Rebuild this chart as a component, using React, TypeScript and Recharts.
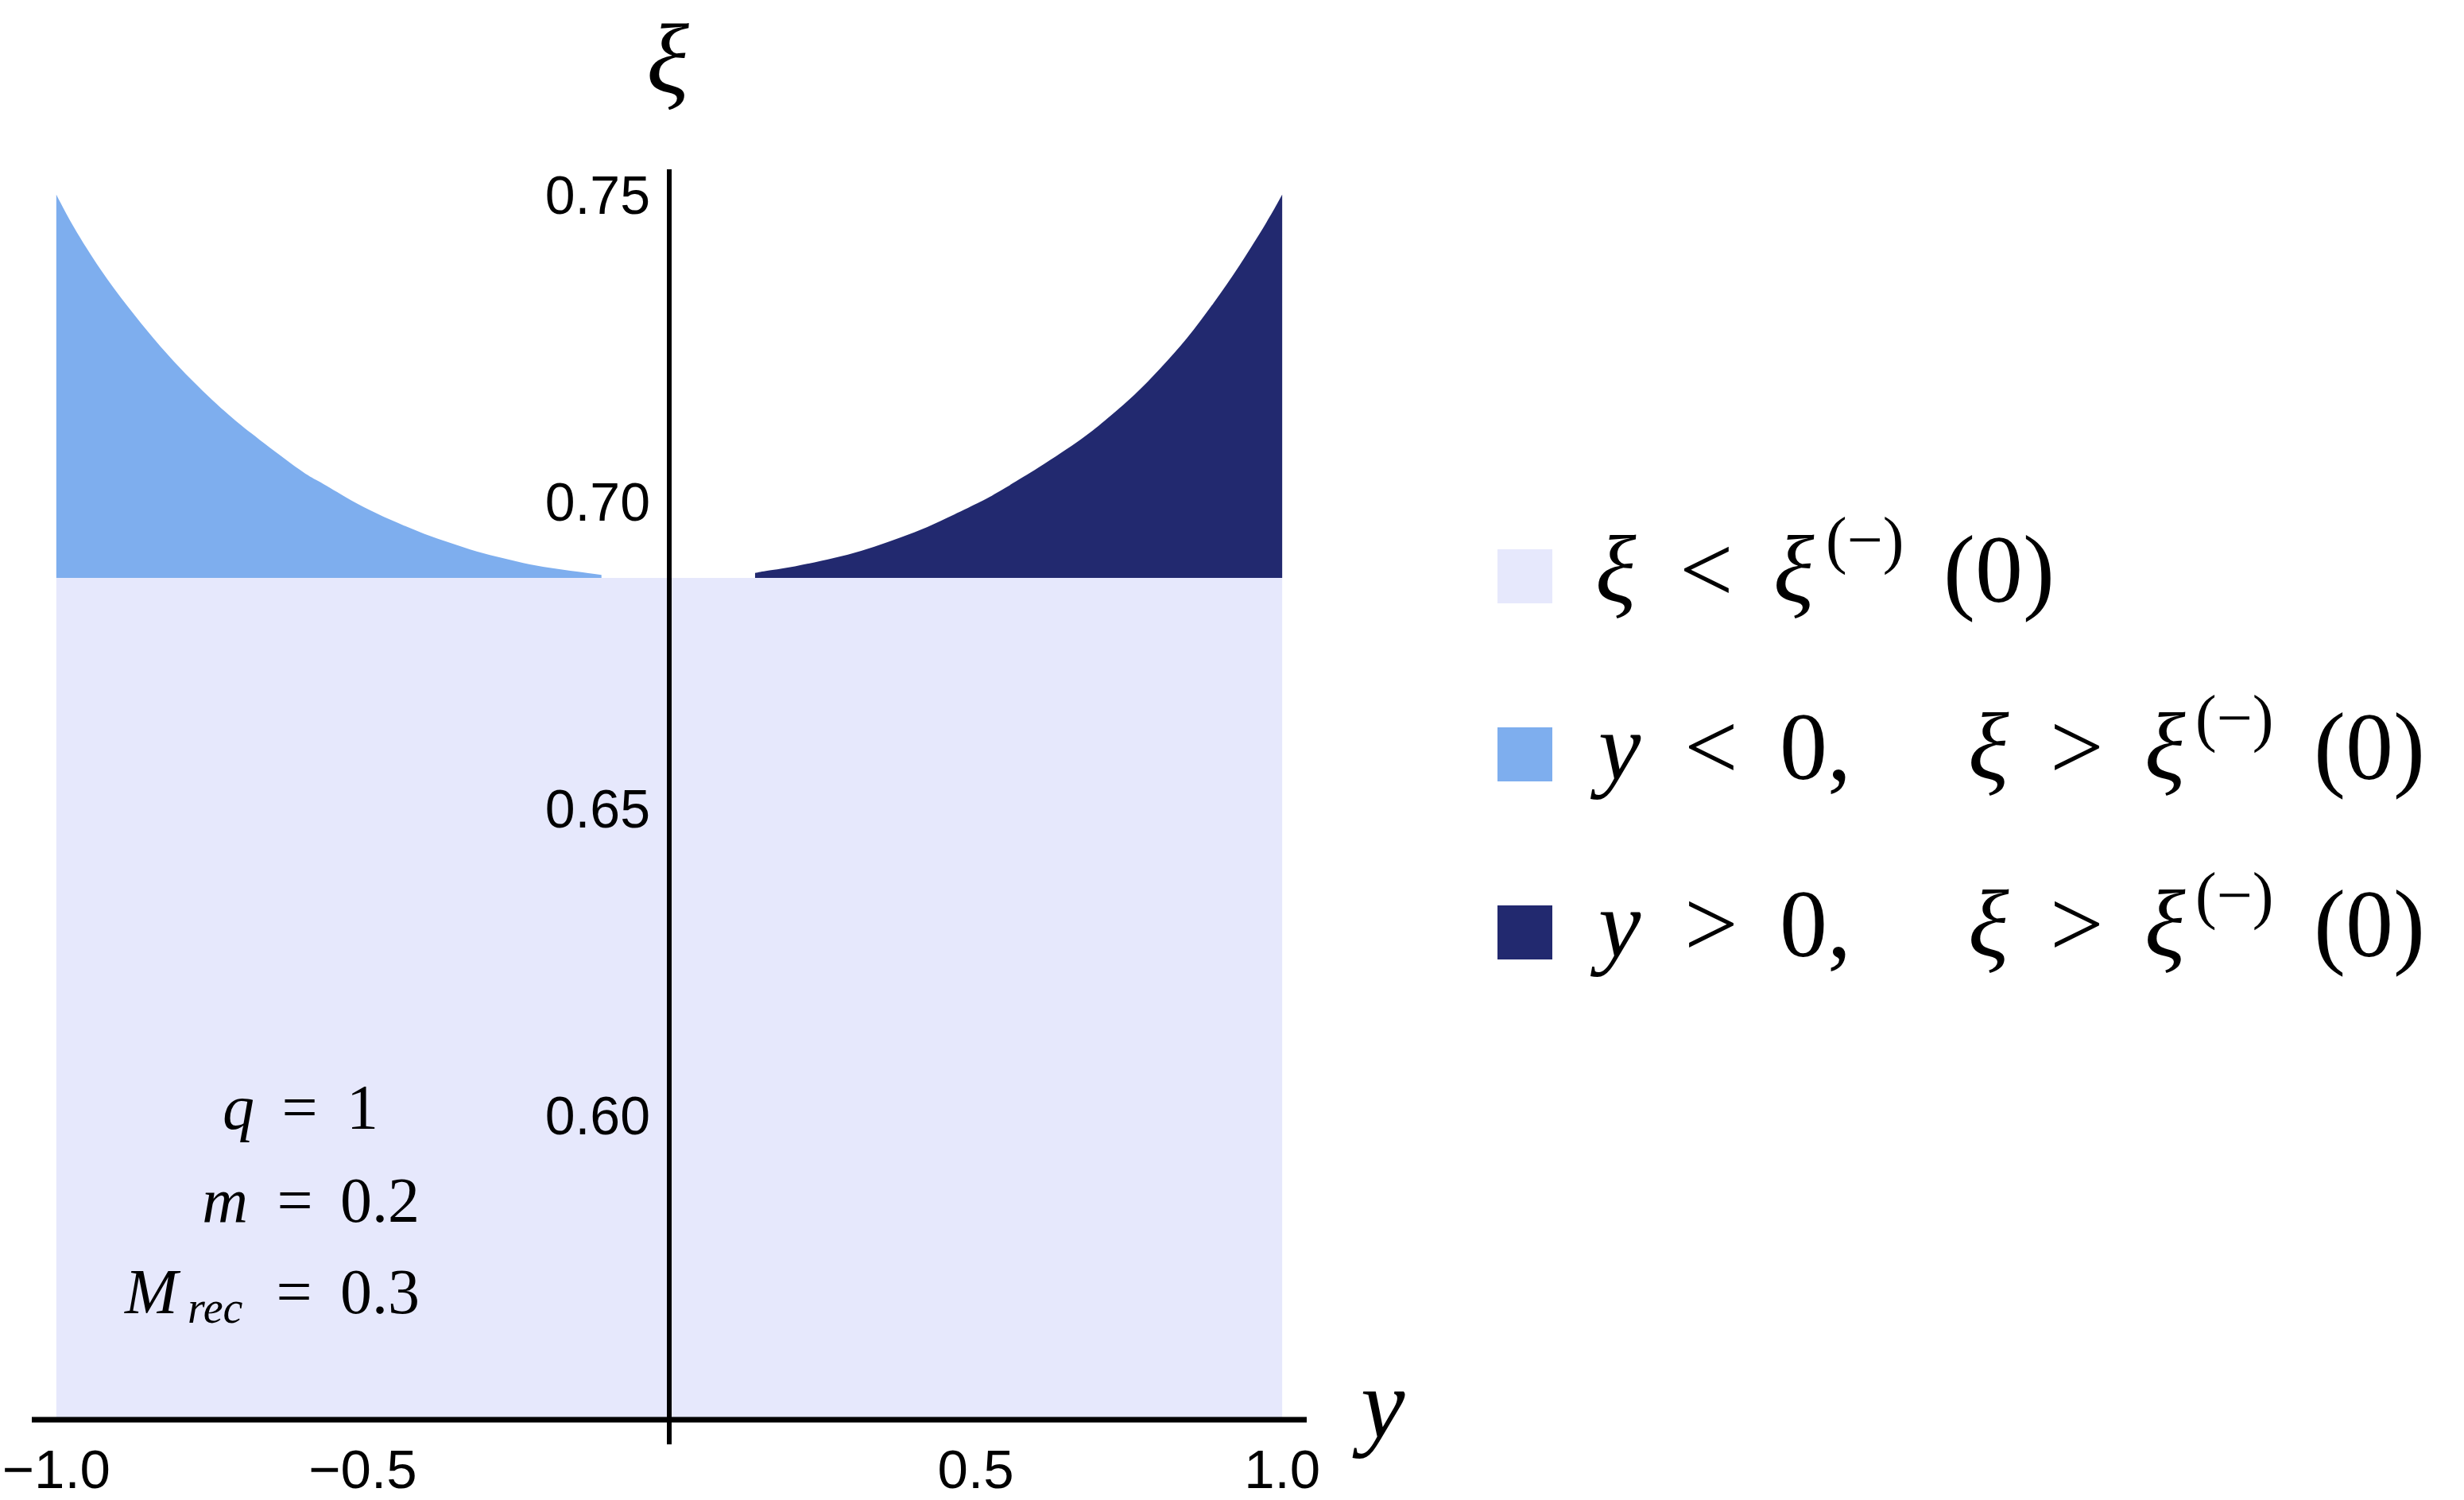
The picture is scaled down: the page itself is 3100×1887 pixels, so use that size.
import React from 'react';
import { ComposedChart, Area, XAxis, YAxis, ReferenceLine, ReferenceDot } from 'recharts';

const W = 3100;
const H = 1887;

// threshold xi^(-)(0) and plot range
const xiThreshold = 0.6875;
const xiFloor = 0.5503;
const xiCeil = 0.7541;
const yLo = -1.04;
const yHi = 1.04;

// y < 0 boundary curve
const leftY = [-1.0, -0.971, -0.928, -0.884, -0.841, -0.798, -0.755, -0.712, -0.668, -0.6035, -0.573, -0.53, -0.487, -0.4436, -0.4, -0.357, -0.314, -0.2707, -0.2274, -0.184, -0.141, -0.1106];
const leftXi = [0.75, 0.7446, 0.7378, 0.7318, 0.7265, 0.7217, 0.7174, 0.7135, 0.71, 0.7052, 0.7033, 0.7008, 0.6985, 0.6965, 0.6947, 0.6932, 0.6918, 0.6907, 0.6897, 0.689, 0.6884, 0.688];

// y > 0 boundary curve
const rightY = [0.14, 0.1617, 0.2049, 0.2481, 0.2914, 0.3346, 0.3778, 0.4211, 0.4643, 0.5075, 0.54, 0.6027, 0.6719, 0.715, 0.7584, 0.8016, 0.8447, 0.888, 0.9313, 0.9745, 1.0];
const rightXi = [0.6883, 0.6887, 0.6894, 0.6903, 0.6913, 0.6926, 0.6941, 0.6958, 0.6978, 0.6999, 0.7017, 0.7055, 0.7101, 0.7135, 0.7173, 0.7217, 0.7266, 0.7323, 0.7386, 0.7455, 0.75];

const xTicks = [-1, -0.5, 0, 0.5, 1];
const xTickLabels = ['−1.0', '−0.5', '', '0.5', '1.0'];
const yTicks = [0.6, 0.65, 0.7, 0.75];
const yTickLabels = ['0.60', '0.65', '0.70', '0.75'];

const colBase = '#E6E8FC';
const colLeft = '#7EAEEE';
const colRight = '#22296F';

type Row = { x: number; base?: [number, number]; left?: [number, number]; right?: [number, number] };

const rows: Row[] = [];
leftY.forEach((x, i) => rows.push({ x, base: [xiFloor, xiThreshold], left: [xiThreshold, leftXi[i]] }));
rightY.forEach((x, i) => rows.push({ x, base: [xiFloor, xiThreshold], right: [xiThreshold, rightXi[i]] }));
rows.sort((a, b) => a.x - b.x);

const sansFont = '"Liberation Sans", Arial, sans-serif';
const serifFont = '"Liberation Serif", "Times New Roman", serif';

const XTick = (props: any) => {
  const { x, y, payload } = props;
  const idx = xTicks.indexOf(payload.value);
  const label = idx >= 0 ? xTickLabels[idx] : '';
  return (
    <g>
      {payload.value === 0 ? <line x1={x} x2={x} y1={y} y2={y + 31} stroke="#000" strokeWidth={6} /> : null}
      {label ? (
        <text x={x} y={y + 62} textAnchor="middle" dominantBaseline="central" fontSize={69} fontFamily={sansFont} fill="#000">
          {label}
        </text>
      ) : null}
    </g>
  );
};

const M = 120; // legend font size
const S = 80; // superscript size

const LegendRow = ({ yc, base, sup, color, parts }: { yc: number; base: number; sup: number; color: string; parts: any[] }) => (
  <g>
    <rect x={1884} y={yc - 34} width={69} height={68} fill={color} />
    {parts.map((p, i) => (
      <text
        key={i}
        x={p.x}
        y={p.sup ? sup : base}
        fontSize={p.sup ? S : M}
        fontStyle={p.it ? 'italic' : 'normal'}
        fontFamily={serifFont}
        fill="#000"
      >
        {p.t}
      </text>
    ))}
  </g>
);

export default function App() {
  return (
    <div style={{ position: 'relative', width: W, height: H, background: '#fff' }}>
      <style>{`body{margin:0}`}</style>
      <ComposedChart width={W} height={H} data={rows} margin={{ top: 213, left: 40, right: 1456, bottom: 0 }}>
        <XAxis
          dataKey="x"
          type="number"
          domain={[yLo, yHi]}
          ticks={xTicks}
          allowDataOverflow
          height={101}
          tickSize={0}
          tickMargin={0}
          tickLine={false}
          axisLine={{ stroke: '#000', strokeWidth: 7 }}
          tick={<XTick />}
          interval={0}
        />
        <YAxis hide type="number" domain={[xiFloor, xiCeil]} allowDataOverflow />
        <Area dataKey="base" type="linear" fill={colBase} fillOpacity={1} stroke="none" isAnimationActive={false} dot={false} activeDot={false} />
        <Area dataKey="left" type="natural" fill={colLeft} fillOpacity={1} stroke="none" isAnimationActive={false} dot={false} activeDot={false} />
        <Area dataKey="right" type="natural" fill={colRight} fillOpacity={1} stroke="none" isAnimationActive={false} dot={false} activeDot={false} />
        <ReferenceLine x={0} stroke="#000" strokeWidth={6} />
        {yTicks.map((v, i) => (
          <ReferenceDot
            key={v}
            x={0}
            y={v}
            r={0}
            fill="none"
            stroke="none"
            label={{ value: yTickLabels[i], position: 'left', offset: 24, fill: '#000', fontSize: 68, fontFamily: sansFont }}
          />
        ))}
      </ComposedChart>
      <svg width={W} height={H} style={{ position: 'absolute', left: 0, top: 0, pointerEvents: 'none' }}>
        {/* axis labels */}
        <text x={840} y={116} textAnchor="middle" fontSize={125} fontStyle="italic" fontFamily={serifFont} fill="#000">ξ</text>
        <text x={1712} y={1808} fontSize={125} fontStyle="italic" fontFamily={serifFont} fill="#000">y</text>

        {/* parameter annotation */}
        <g fontFamily={serifFont} fontSize={80} fill="#000">
          <text x={320} y={1420} textAnchor="end" fontStyle="italic">q</text>
          <text x={377} y={1420} textAnchor="middle">=</text>
          <text x={436} y={1420}>1</text>
          <text x={312} y={1537} textAnchor="end" fontStyle="italic">m</text>
          <text x={371} y={1537} textAnchor="middle">=</text>
          <text x={428} y={1537}>0.2</text>
          <text x={157} y={1652} fontStyle="italic">M</text>
          <text x={236} y={1664} fontSize={56} fontStyle="italic">rec</text>
          <text x={370} y={1652} textAnchor="middle">=</text>
          <text x={428} y={1652}>0.3</text>
        </g>

        {/* legend */}
        <LegendRow
          yc={725}
          base={757}
          sup={706}
          color={colBase}
          parts={[
            { x: 2007, t: 'ξ', it: true },
            { x: 2113, t: '<' },
            { x: 2231, t: 'ξ', it: true },
            { x: 2297, t: '(−)', sup: true },
            { x: 2445, t: '(0)' },
          ]}
        />
        <LegendRow
          yc={949}
          base={980}
          sup={930}
          color={colLeft}
          parts={[
            { x: 2011, t: 'y', it: true },
            { x: 2119, t: '<' },
            { x: 2239, t: '0,' },
            { x: 2476, t: 'ξ', it: true },
            { x: 2579, t: '>' },
            { x: 2698, t: 'ξ', it: true },
            { x: 2762, t: '(−)', sup: true },
            { x: 2911, t: '(0)' },
          ]}
        />
        <LegendRow
          yc={1173}
          base={1203}
          sup={1153}
          color={colRight}
          parts={[
            { x: 2011, t: 'y', it: true },
            { x: 2119, t: '>' },
            { x: 2239, t: '0,' },
            { x: 2476, t: 'ξ', it: true },
            { x: 2579, t: '>' },
            { x: 2698, t: 'ξ', it: true },
            { x: 2762, t: '(−)', sup: true },
            { x: 2911, t: '(0)' },
          ]}
        />
      </svg>
    </div>
  );
}
